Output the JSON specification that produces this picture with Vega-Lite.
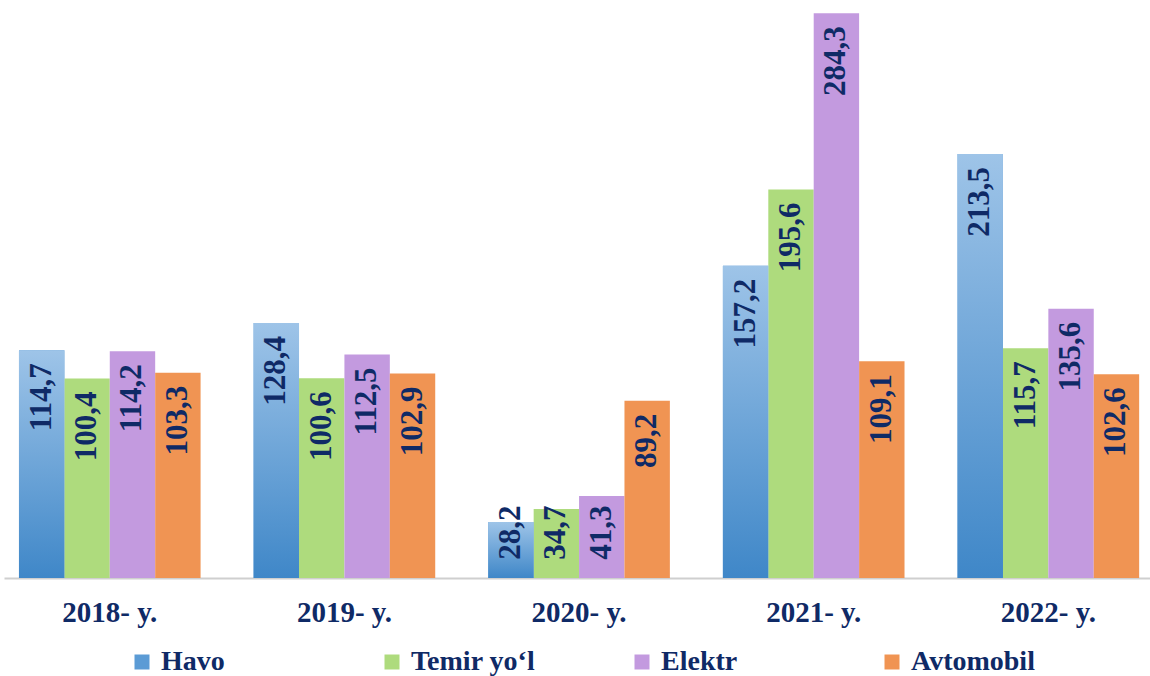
{
  "$schema": "https://vega.github.io/schema/vega-lite/v6.json",
  "width": 1146,
  "height": 578,
  "autosize": {"type": "none"},
  "padding": {"left": 4, "top": 0, "right": 0, "bottom": 98},
  "background": "white",
  "config": {"view": {"stroke": null}, "font": "Liberation Serif"},
  "data": {
    "values": [
      {"year": "2018- y.", "series": "Havo", "value": 114.7, "label": "114,7"},
      {"year": "2018- y.", "series": "Temir yo‘l", "value": 100.4, "label": "100,4"},
      {"year": "2018- y.", "series": "Elektr", "value": 114.2, "label": "114,2"},
      {"year": "2018- y.", "series": "Avtomobil", "value": 103.3, "label": "103,3"},
      {"year": "2019- y.", "series": "Havo", "value": 128.4, "label": "128,4"},
      {"year": "2019- y.", "series": "Temir yo‘l", "value": 100.6, "label": "100,6"},
      {"year": "2019- y.", "series": "Elektr", "value": 112.5, "label": "112,5"},
      {"year": "2019- y.", "series": "Avtomobil", "value": 102.9, "label": "102,9"},
      {"year": "2020- y.", "series": "Havo", "value": 28.2, "label": "28,2"},
      {"year": "2020- y.", "series": "Temir yo‘l", "value": 34.7, "label": "34,7"},
      {"year": "2020- y.", "series": "Elektr", "value": 41.3, "label": "41,3"},
      {"year": "2020- y.", "series": "Avtomobil", "value": 89.2, "label": "89,2"},
      {"year": "2021- y.", "series": "Havo", "value": 157.2, "label": "157,2"},
      {"year": "2021- y.", "series": "Temir yo‘l", "value": 195.6, "label": "195,6"},
      {"year": "2021- y.", "series": "Elektr", "value": 284.3, "label": "284,3"},
      {"year": "2021- y.", "series": "Avtomobil", "value": 109.1, "label": "109,1"},
      {"year": "2022- y.", "series": "Havo", "value": 213.5, "label": "213,5"},
      {"year": "2022- y.", "series": "Temir yo‘l", "value": 115.7, "label": "115,7"},
      {"year": "2022- y.", "series": "Elektr", "value": 135.6, "label": "135,6"},
      {"year": "2022- y.", "series": "Avtomobil", "value": 102.6, "label": "102,6"}
    ]
  },
  "encoding": {
    "x": {
      "field": "year", "type": "nominal", "title": null,
      "scale": {"paddingInner": 0.226, "paddingOuter": 0.055, "align": 0.58},
      "axis": {
        "labelAngle": 0, "ticks": false, "labelPadding": 20,
        "labelFont": "Liberation Serif", "labelFontSize": 29, "labelFontWeight": "bold",
        "labelColor": "#0F2A66", "domainColor": "#CFCFCF", "domainWidth": 2,
        "grid": false
      }
    },
    "xOffset": {
      "field": "series", "type": "nominal",
      "scale": {"domain": ["Havo", "Temir yo‘l", "Elektr", "Avtomobil"], "paddingInner": 0, "paddingOuter": 0}
    }
  },
  "layer": [
    {
      "mark": {"type": "bar"},
      "encoding": {
        "y": {"field": "value", "type": "quantitative", "scale": {"domain": [0, 291], "nice": false}, "axis": null},
        "color": {
          "field": "series", "type": "nominal",
          "scale": {"domain": ["Havo", "Temir yo‘l", "Elektr", "Avtomobil"], "range": ["#5B9BD5", "#AEDB7D", "#C39ADF", "#F09453"]},
          "legend": {
            "title": null, "orient": "none", "legendX": 124, "legendY": 648,
            "direction": "horizontal", "columns": 4, "gridAlign": "all", "columnPadding": 92,
            "padding": 0, "symbolType": "square", "symbolSize": 225, "symbolStrokeWidth": 0,
            "symbolOffset": 0, "labelOffset": 5,
            "labelFont": "Liberation Serif", "labelFontSize": 28, "labelFontWeight": "bold",
            "labelColor": "#0F2A66", "labelLimit": 400
          }
        }
      }
    },
    {
      "transform": [{"filter": "datum.series === 'Havo'"}],
      "mark": {
        "type": "bar",
        "fill": {
          "gradient": "linear", "x1": 0, "y1": 0, "x2": 0, "y2": 1,
          "stops": [{"offset": 0, "color": "#9EC4E8"}, {"offset": 1, "color": "#3F87C8"}]
        }
      },
      "encoding": {
        "y": {"field": "value", "type": "quantitative"}
      }
    },
    {
      "transform": [{"calculate": "max(datum.value, 43)", "as": "labelPos"}],
      "mark": {
        "type": "text", "angle": 270, "align": "right", "baseline": "middle",
        "dx": -13, "font": "Liberation Serif", "fontSize": 31, "fontWeight": "bold",
        "color": "#0F2A66"
      },
      "encoding": {
        "y": {"field": "labelPos", "type": "quantitative"},
        "text": {"field": "label", "type": "nominal"}
      }
    }
  ]
}
